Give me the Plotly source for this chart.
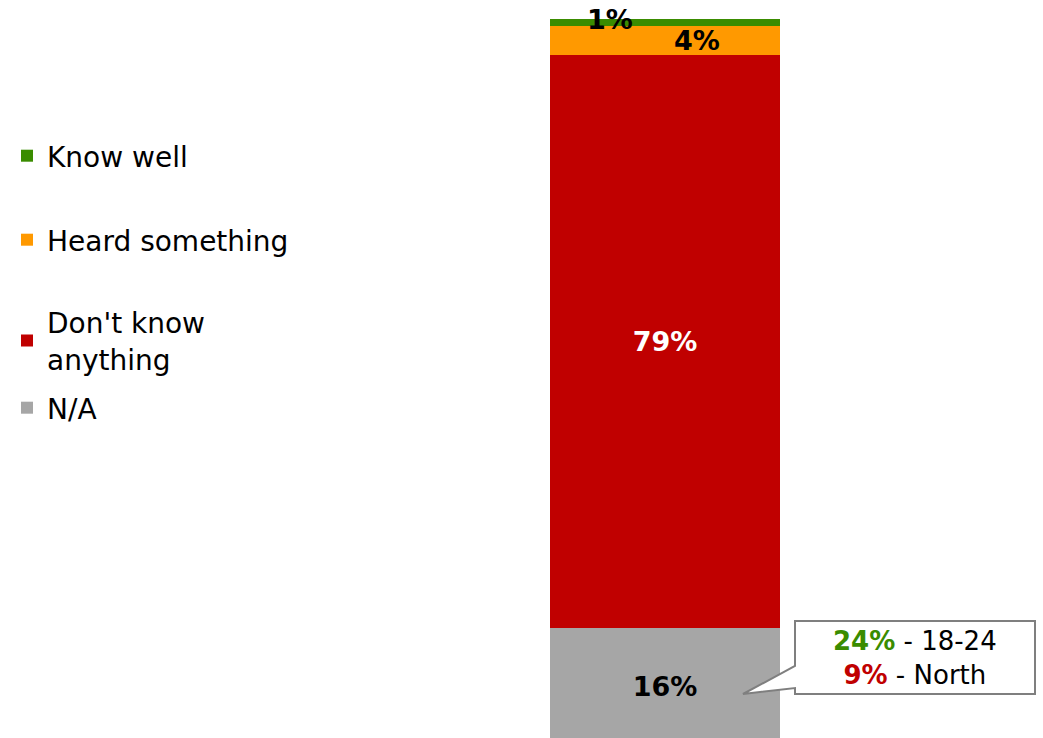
import plotly.graph_objects as go

# Awareness shares (%) for a single stacked column, bottom to top
categories = ["N/A", "Don't know<br>anything", "Heard something", "Know well"]
values = [16, 79, 4, 1]
colors = ["#a6a6a6", "#c00000", "#ff9900", "#3a8c00"]
label_colors = ["#000000", "#ffffff", "#000000", "#000000"]

# Callout breakdown
callout_values = [24, 9]
callout_groups = ["18-24", "North"]
callout_colors = ["#3a8c00", "#c00000"]

FONT = "DejaVu Sans, Liberation Sans, Arial, sans-serif"
W, H = 1043, 738
TOP, BOTTOM = 19, 738          # plot area in pixels
PX_PER_UNIT = 7.25
BAR_CENTER_PX, BAR_WIDTH_PX = 665, 230

y_min = 100 - (BOTTOM - TOP) / PX_PER_UNIT
x_lo = -BAR_CENTER_PX / BAR_WIDTH_PX
x_hi = (W - BAR_CENTER_PX) / BAR_WIDTH_PX


def px_x(p):
    return (p - BAR_CENTER_PX) / BAR_WIDTH_PX


def px_y(p):
    return 100 - (p - TOP) / PX_PER_UNIT


fig = go.Figure()
legend_ids = ["legend4", "legend3", "legend2", "legend"]
for i, (name, v, c) in enumerate(zip(categories, values, colors)):
    show_inside = v >= 10
    fig.add_trace(go.Bar(
        x=[0], y=[v], name=name, width=1,
        marker=dict(color=c, line=dict(width=0)),
        text=[f"{v}%"] if show_inside else None,
        textposition="inside" if show_inside else "none",
        insidetextanchor="middle",
        textfont=dict(family=FONT, size=27, color=label_colors[i], weight="bold"),
        legend=legend_ids[i],
        hoverinfo="skip",
    ))

# Small segments get labels placed beside the thin bands
cum = 0
tops = []
for v in values:
    cum += v
    tops.append(cum)
small_specs = {2: dict(y=tops[2] - values[2] / 2, xshift=32, yshift=0),
               3: dict(y=tops[3], xshift=-55, yshift=0)}
annotations = []
for i, spec in small_specs.items():
    annotations.append(dict(
        x=0, y=spec["y"], xref="x", yref="y", text=f"<b>{values[i]}%</b>",
        showarrow=False, xshift=spec["xshift"], yshift=spec["yshift"],
        font=dict(family=FONT, size=27, color=label_colors[i]),
        xanchor="center", yanchor="middle",
    ))

# Callout box with pointer into the N/A segment
bl, br, bt, bb = px_x(795), px_x(1035), px_y(621), px_y(694)
tail1, tail2 = px_y(666), px_y(688)
tip_x, tip_y = px_x(743), px_y(694)
path = (f"M {bl},{bt} L {br},{bt} L {br},{bb} L {bl},{bb} "
        f"L {bl},{tail2} L {tip_x},{tip_y} L {bl},{tail1} Z")
fig.add_shape(type="path", path=path, xref="x", yref="y",
              line=dict(color="#7f7f7f", width=2), fillcolor="#ffffff",
              layer="above")

lines = [f"<b><span style='color:{c}'>{v}%</span></b> - {g}"
         for v, g, c in zip(callout_values, callout_groups, callout_colors)]
annotations.append(dict(
    x=(bl + br) / 2, y=(bt + bb) / 2, xref="x", yref="y",
    text="<br>".join(lines), showarrow=False, align="center",
    font=dict(family=FONT, size=26, color="#000000"),
    xanchor="center", yanchor="middle",
))


def paper_y(p):
    return (BOTTOM - p) / (BOTTOM - TOP)


legend_common = dict(font=dict(family=FONT, size=28, color="#000000"),
                     bgcolor="rgba(0,0,0,0)", borderwidth=0,
                     xanchor="left", yanchor="middle", x=7 / W,
                     itemclick=False, itemdoubleclick=False)
legend_centers = {"legend": 156, "legend2": 240, "legend3": 340.5, "legend4": 408}

layout_legends = {k: dict(legend_common, y=paper_y(v)) for k, v in legend_centers.items()}

fig.update_layout(
    width=W, height=H,
    margin=dict(l=0, r=0, t=TOP, b=H - BOTTOM, pad=0),
    barmode="stack",
    plot_bgcolor="#ffffff", paper_bgcolor="#ffffff",
    xaxis=dict(visible=False, range=[x_lo, x_hi], fixedrange=True),
    yaxis=dict(visible=False, range=[y_min, 100], fixedrange=True),
    annotations=annotations,
    showlegend=True,
    font=dict(family=FONT),
    **layout_legends,
)

fig.write_html("out.html", config={"displayModeBar": False})
